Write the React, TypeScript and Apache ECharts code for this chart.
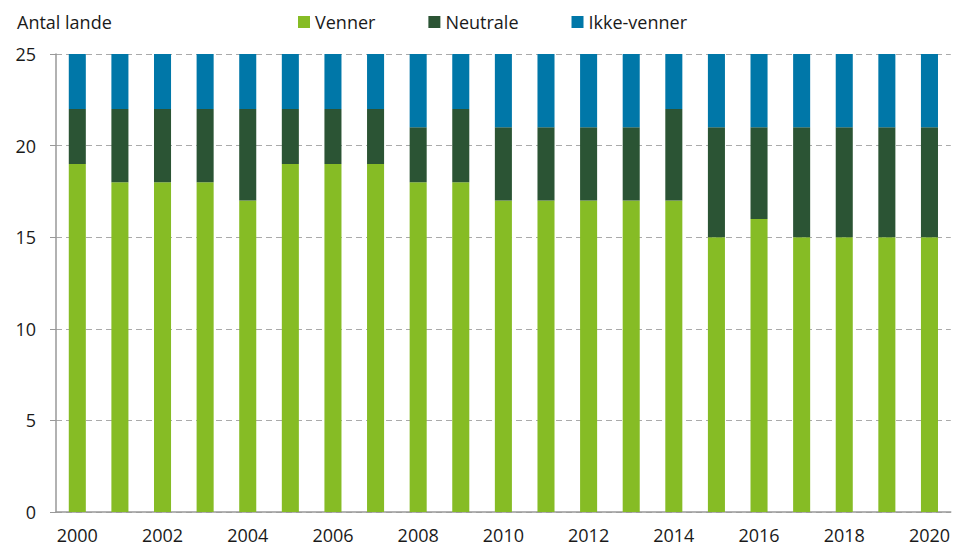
import React, { useEffect, useRef } from "react";
import * as echarts from "echarts";

const years = ["2000","2001","2002","2003","2004","2005","2006","2007","2008","2009","2010","2011","2012","2013","2014","2015","2016","2017","2018","2019","2020"];
const venner = [19,18,18,18,17,19,19,19,18,18,17,17,17,17,17,15,16,15,15,15,15];
const neutrale = [3,4,4,4,5,3,3,3,3,4,4,4,4,4,5,6,5,6,6,6,6];
const ikkeVenner = [3,3,3,3,3,3,3,3,4,3,4,4,4,4,3,4,4,4,4,4,4];

const FONT = "'Open Sans', 'Noto Sans', sans-serif";

export default function App() {
  const ref = useRef<HTMLDivElement>(null);
  useEffect(() => {
    const chart = echarts.init(ref.current!, null, { renderer: "svg" });
    const mk = (name: string, data: number[], color: string) => ({
      name,
      type: "bar",
      stack: "a",
      data,
      barWidth: "40%",
      itemStyle: { color },
    });
    chart.setOption({
      animation: false,
      textStyle: { fontFamily: FONT },
      title: {
        text: "Antal lande",
        left: 4,
        top: 0,
        textStyle: { fontSize: 18, fontWeight: "normal", color: "#1a1a1a", fontFamily: FONT },
      },
      legend: {
        top: 0,
        left: 285,
        itemWidth: 12,
        itemHeight: 12,
        itemGap: 53,
        icon: "rect",
        textStyle: { fontSize: 18, color: "#1a1a1a", fontFamily: FONT },
        data: ["Venner", "Neutrale", "Ikke-venner"],
      },
      grid: { left: 48, right: 0, top: 46, bottom: 40, containLabel: false },
      xAxis: {
        type: "category",
        data: years,
        axisLine: { lineStyle: { color: "#999", width: 1.5 } },
        axisTick: { alignWithLabel: true, interval: 0, length: 5, lineStyle: { color: "#999" } },
        axisLabel: { interval: 1, fontSize: 18, color: "#1a1a1a", margin: 14, fontFamily: FONT },
      },
      yAxis: {
        type: "value",
        min: 0,
        max: 25,
        interval: 5,
        axisLine: { show: true, lineStyle: { color: "#999", width: 1.5 } },
        axisTick: { show: true, length: 6, lineStyle: { color: "#999" } },
        axisLabel: { fontSize: 18, color: "#1a1a1a", margin: 20, fontFamily: FONT },
        splitLine: { lineStyle: { color: "#aaa", type: [6, 4], width: 1.2 } },
      },
      series: [
        mk("Venner", venner, "#86bc25"),
        mk("Neutrale", neutrale, "#2b5434"),
        mk("Ikke-venner", ikkeVenner, "#0077a8"),
      ],
    });
    return () => chart.dispose();
  }, []);
  return <div ref={ref} style={{ width: 945, height: 544 }} />;
}
